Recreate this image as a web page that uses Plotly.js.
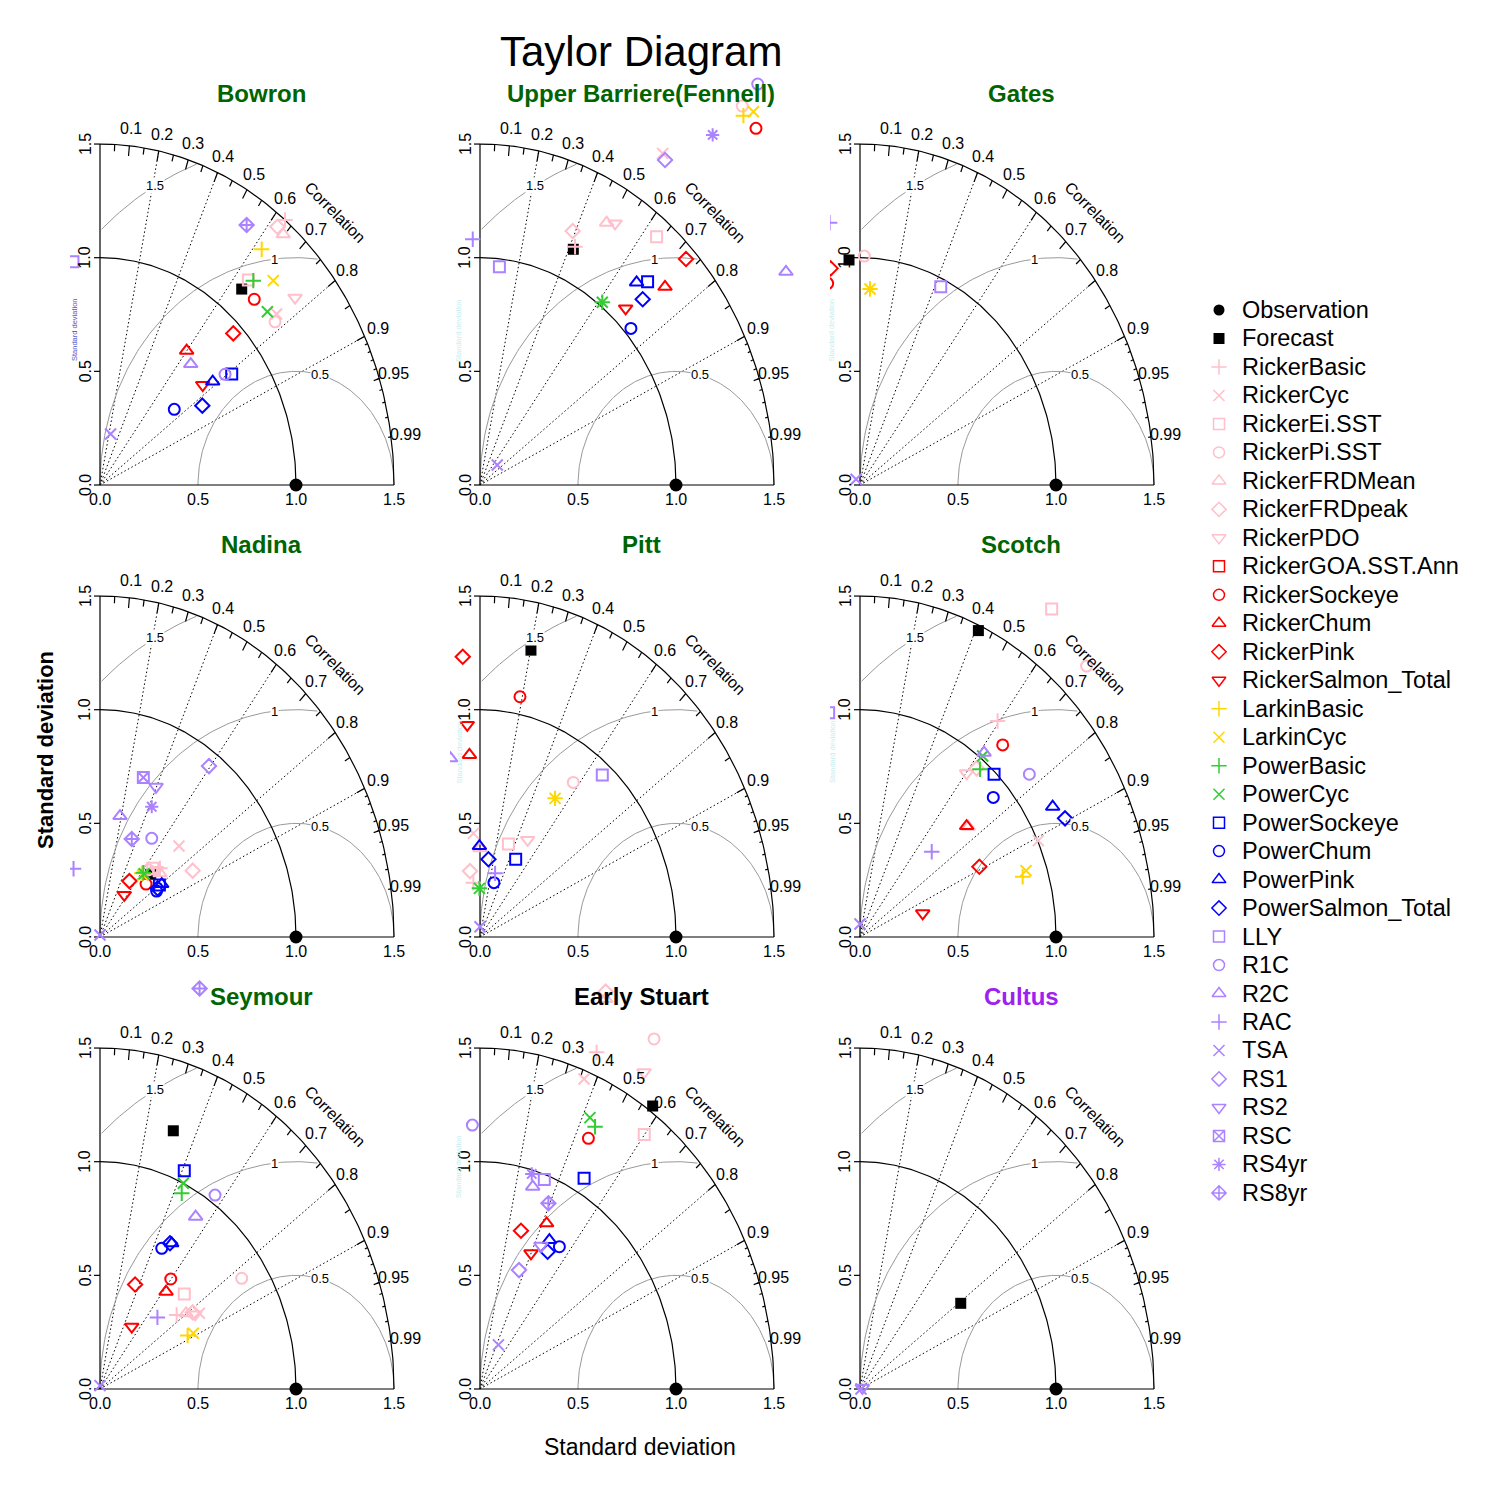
<!DOCTYPE html>
<html>
<head>
<meta charset="utf-8">
<script src="https://cdn.plot.ly/plotly-3.0.1.min.js"></script>
<style>body{margin:0;background:#fff}</style>
</head>
<body>
<div id="graph" style="width:1500px;height:1500px"></div>
<script>
// series shown in the legend, in legend order
var seriesNames = ['Observation','Forecast','RickerBasic','RickerCyc','RickerEi.SST','RickerPi.SST','RickerFRDMean','RickerFRDpeak','RickerPDO','RickerGOA.SST.Ann','RickerSockeye','RickerChum','RickerPink','RickerSalmon_Total','LarkinBasic','LarkinCyc','PowerBasic','PowerCyc','PowerSockeye','PowerChum','PowerPink','PowerSalmon_Total','LLY','R1C','R2C','RAC','TSA','RS1','RS2','RSC','RS4yr','RS8yr'];
var seriesColors = ['#000000','#000000','#FFC0CB','#FFC0CB','#FFC0CB','#FFC0CB','#FFC0CB','#FFC0CB','#FFC0CB','#FF0000','#FF0000','#FF0000','#FF0000','#FF0000','#FFD700','#FFD700','#32CD32','#32CD32','#0000FF','#0000FF','#0000FF','#0000FF','#AB82FF','#AB82FF','#AB82FF','#AB82FF','#AB82FF','#AB82FF','#AB82FF','#AB82FF','#AB82FF','#AB82FF'];
var seriesSymbols = ['circle','square','cross-thin-open','x-thin-open','square-open','circle-open','triangle-up-open','diamond-open','triangle-down-open','square-open','circle-open','triangle-up-open','diamond-open','triangle-down-open','cross-thin-open','x-thin-open','cross-thin-open','x-thin-open','square-open','circle-open','triangle-up-open','diamond-open','square-open','circle-open','triangle-up-open','cross-thin-open','x-thin-open','diamond-open','triangle-down-open','square-x-open','asterisk-open','diamond-cross-open'];

var panelNames = ['Bowron','Upper Barriere(Fennell)','Gates','Nadina','Pitt','Scotch','Seymour','Early Stuart','Cultus'];
var panelTitleColors = ['#006400','#006400','#006400','#006400','#006400','#006400','#006400','#000000','#A020F0'];

// point positions per stock: x = sd*cor, y = sd*sqrt(1-cor^2) (sd normalised), null = not drawn
var bowronX = [1.0,0.723,0.944,0.901,0.757,0.893,0.935,0.905,0.995,null,0.787,0.442,0.680,0.524,0.825,0.884,0.782,0.854,0.672,0.379,0.575,0.522,-0.138,0.638,0.463,null,0.054,null,null,null,null,0.748];
var bowronY = [0,0.862,1.166,0.752,0.902,0.718,1.103,1.136,0.824,null,0.817,0.591,0.667,0.440,1.037,0.899,0.899,0.762,0.488,0.333,0.455,0.349,0.982,0.487,0.532,null,0.224,null,null,null,null,1.144];

var upperBarriereX = [1.0,0.476,0.485,0.932,0.901,1.338,0.646,0.473,0.689,null,1.408,0.944,1.051,0.743,1.344,1.395,0.624,0.624,0.855,0.770,0.799,0.830,0.099,1.417,1.561,-0.037,0.088,0.944,null,null,1.187,null];
var upperBarriereY = [0,1.037,1.048,1.459,1.092,1.667,1.154,1.117,1.151,null,1.569,0.872,0.994,0.777,1.625,1.642,0.804,0.804,0.894,0.689,0.891,0.817,0.960,1.764,0.938,1.081,0.088,1.430,null,null,1.540,null];

var gatesX = [1.0,-0.056,null,null,null,0.022,null,null,null,null,-0.165,null,-0.150,null,0.051,0.051,null,null,null,null,null,null,0.412,null,null,-0.155,-0.020,null,null,null,null,null];
var gatesY = [0,0.990,null,null,null,1.007,null,null,null,null,0.887,null,0.953,null,0.862,0.862,null,null,null,null,null,null,0.872,null,null,1.154,0.025,null,null,null,null,null];

var nadinaX = [1.0,0.259,0.306,0.403,0.269,0.247,0.306,0.473,0.289,null,0.235,null,0.150,0.124,0.213,0.218,0.221,0.225,0.303,0.289,0.315,0.294,null,0.264,0.102,-0.135,0.0,0.556,0.286,0.221,0.264,0.162];
var nadinaY = [0,0.276,0.302,0.400,0.302,0.295,0.280,0.292,0.295,null,0.233,null,0.246,0.185,0.280,0.273,0.283,0.278,0.229,0.202,0.233,0.214,null,0.434,0.532,0.300,0.009,0.752,0.661,0.702,0.573,0.431];

var pittX = [1.0,0.260,-0.034,-0.034,0.145,0.476,0.0,-0.051,0.243,null,0.204,-0.054,-0.088,-0.065,0.383,0.383,-0.003,-0.003,0.182,0.071,-0.003,0.043,0.624,null,-0.150,0.077,0.0,null,null,null,null,null];
var pittY = [0,1.262,0.239,0.456,0.409,0.680,0.390,0.290,0.427,null,1.057,0.801,1.233,0.933,0.610,0.610,0.214,0.214,0.342,0.239,0.400,0.342,0.713,null,0.786,0.280,0.045,null,null,null,null,null];

var scotchX = [1.0,0.604,0.702,0.910,0.978,1.156,0.553,0.595,0.544,null,0.728,0.544,0.609,0.320,0.830,0.847,0.612,0.626,0.684,0.680,0.983,1.046,-0.160,0.864,0.633,0.366,0.0,null,null,null,null,null];
var scotchY = [0,1.348,0.950,0.424,1.443,1.192,0.485,0.742,0.720,null,0.845,0.488,0.309,0.104,0.265,0.292,0.738,0.796,0.716,0.614,0.573,0.522,0.987,0.716,0.811,0.375,0.057,null,null,null,null,null];

var seymourX = [1.0,0.374,0.391,0.507,0.430,0.723,0.439,0.473,0.485,null,0.361,0.337,0.179,0.162,0.447,0.476,0.417,0.425,0.430,0.315,0.366,0.357,null,0.587,0.488,0.293,0.0,null,null,null,null,0.508];
var seymourY = [0,1.136,0.326,0.333,0.418,0.487,0.333,0.337,0.328,null,0.484,0.428,0.460,0.274,0.235,0.245,0.861,0.905,0.960,0.619,0.641,0.641,null,0.853,0.758,0.315,0.015,null,null,null,null,1.762];

var earlyStuartX = [1.0,0.881,0.595,0.531,0.838,0.888,0.641,0.641,0.837,null,0.553,0.340,0.209,0.260,null,null,0.587,0.561,0.531,0.405,0.354,0.345,0.328,-0.039,0.269,null,0.094,0.199,0.311,null,0.264,0.349];
var earlyStuartY = [0,1.245,1.481,1.364,1.120,1.540,1.716,1.748,1.393,null,1.103,0.729,0.696,0.597,null,null,1.154,1.194,0.927,0.626,0.655,0.604,0.922,1.161,0.890,null,0.194,0.523,0.630,null,0.946,0.817];

var cultusX = [1.0,0.514,null,null,null,null,null,null,null,null,null,null,null,null,null,null,null,null,null,null,null,null,null,null,null,null,0.005,null,0.012,null,null,null];
var cultusY = [0,0.377,null,null,null,null,null,null,null,null,null,null,null,null,null,null,null,null,null,null,null,null,null,null,null,null,0.0,null,0.005,null,null,null];

var panelX = [bowronX, upperBarriereX, gatesX, nadinaX, pittX, scotchX, seymourX, earlyStuartX, cultusX];
var panelY = [bowronY, upperBarriereY, gatesY, nadinaY, pittY, scotchY, seymourY, earlyStuartY, cultusY];

// diagram furniture
var maxSd = 1.5, refSd = 1.0;
var sdTicks = [0, 0.5, 1.0, 1.5];
var corBig = [0.1,0.2,0.3,0.4,0.5,0.6,0.7,0.8,0.9];
var corMed = [0.05,0.15,0.25,0.35,0.45,0.55,0.65,0.75,0.85,0.95];
var corSmall = [0.91,0.92,0.93,0.94,0.95,0.96,0.97,0.98,0.99];
var corLabels = [0.1,0.2,0.3,0.4,0.5,0.6,0.7,0.8,0.9,0.95,0.99];
var corLines = [0.2,0.4,0.6,0.8,0.9];
var gammaRadii = [0.5, 1, 1.5];
var gammaLabelAngles = [1.32, 1.68, 2.07];

function drawTaylor() {
    var W = 1500;
    var colOrigin = [100, 480, 860];
    var rowOrigin = [485, 937, 1389];
    var UX = 196, UY = 227.3;
    var FONT = 'Liberation Sans, Arial, sans-serif';

    var traces = [];
    var annotations = [];
    var layout = {
        width: W, height: W,
        margin: {l: 0, r: 0, t: 0, b: 0},
        paper_bgcolor: '#fff', plot_bgcolor: 'rgba(0,0,0,0)',
        showlegend: false,
        font: {family: FONT, color: '#000'}
    };

    function px(v) { return v / W; }
    function py(v) { return 1 - v / W; }

    function symbolSize(sym) {
        if (sym === 'circle') return 13;
        if (sym === 'square') return 11;
        if (sym.indexOf('triangle') === 0) return 12;
        return 11;
    }

    for (var p = 0; p < 9; p++) {
        var col = p % 3, row = Math.floor(p / 3);
        var ox = colOrigin[col], oy = rowOrigin[row];
        var n = p + 1;
        var xr = n === 1 ? 'x' : 'x' + n;
        var yr = n === 1 ? 'y' : 'y' + n;
        var leftPx = ox - 30, rightPx = ox + 345, topPx = oy - 420, bottomPx = oy + 42;

        layout[n === 1 ? 'xaxis' : 'xaxis' + n] = {
            domain: [px(leftPx), px(rightPx)], range: [(leftPx - ox) / UX, (rightPx - ox) / UX],
            visible: false, fixedrange: true, anchor: yr
        };
        layout[n === 1 ? 'yaxis' : 'yaxis' + n] = {
            domain: [py(bottomPx), py(topPx)], range: [(oy - bottomPx) / UY, (oy - topPx) / UY],
            visible: false, fixedrange: true, anchor: xr
        };

        // dotted correlation rays
        var dx = [], dy = [];
        corLines.forEach(function(c) {
            dx.push(0, maxSd * c, null);
            dy.push(0, maxSd * Math.sqrt(1 - c * c), null);
        });
        traces.push({type: 'scatter', mode: 'lines', x: dx, y: dy, xaxis: xr, yaxis: yr, hoverinfo: 'skip',
            line: {color: '#000', width: 1, dash: '1.5px,2.5px'}});

        // gray centred-RMS arcs around the reference point
        var gx = [], gy = [];
        gammaRadii.forEach(function(r) {
            for (var i = 0; i <= 200; i++) {
                var t = Math.PI * i / 200;
                var ax = refSd + r * Math.cos(t), ay = r * Math.sin(t);
                if (ax >= 0 && ax * ax + ay * ay <= maxSd * maxSd + 1e-9) { gx.push(ax); gy.push(ay); }
                else { gx.push(null); gy.push(null); }
            }
            gx.push(null); gy.push(null);
        });
        traces.push({type: 'scatter', mode: 'lines', x: gx, y: gy, xaxis: xr, yaxis: yr, hoverinfo: 'skip',
            connectgaps: false, line: {color: '#999999', width: 1}});

        // black frame: axes, outer arc, reference arc, ticks
        var bx = [0, 0, null, 0, maxSd, null], by = [maxSd, 0, null, 0, 0, null];
        [maxSd, refSd].forEach(function(r) {
            for (var i = 0; i <= 120; i++) {
                var t = Math.PI / 2 * i / 120;
                bx.push(r * Math.cos(t)); by.push(r * Math.sin(t));
            }
            bx.push(null); by.push(null);
        });
        [[corBig, 0.97], [corMed, 0.98], [corSmall, 0.99]].forEach(function(set) {
            set[0].forEach(function(c) {
                var s = Math.sqrt(1 - c * c);
                bx.push(maxSd * c, maxSd * set[1] * c, null);
                by.push(maxSd * s, maxSd * set[1] * s, null);
            });
        });
        sdTicks.forEach(function(v) {
            bx.push(0, -6 / UX, null);
            by.push(v, v, null);
        });
        traces.push({type: 'scatter', mode: 'lines', x: bx, y: by, xaxis: xr, yaxis: yr, hoverinfo: 'skip',
            line: {color: '#000', width: 1.2}});

        // points
        var X = panelX[p], Y = panelY[p];
        for (var s = 0; s < seriesNames.length; s++) {
            if (X[s] === null || Y[s] === null) continue;
            var sym = seriesSymbols[s];
            var isOpen = sym.indexOf('-open') > 0;
            traces.push({type: 'scatter', mode: 'markers', name: seriesNames[s], x: [X[s]], y: [Y[s]],
                xaxis: xr, yaxis: yr, hoverinfo: 'skip',
                marker: {symbol: sym, size: symbolSize(sym), color: seriesColors[s],
                    line: {width: isOpen ? 2 : 0, color: seriesColors[s]}}});
        }

        // tick labels
        sdTicks.forEach(function(v) {
            annotations.push({xref: xr, yref: yr, x: v, y: 0, yshift: -14, text: v.toFixed(1), showarrow: false,
                font: {size: 16}, xanchor: 'center', yanchor: 'middle'});
            annotations.push({xref: xr, yref: yr, x: 0, y: v, xshift: -15, text: v.toFixed(1), showarrow: false,
                textangle: -90, font: {size: 16}, xanchor: 'center', yanchor: 'middle'});
        });
        corLabels.forEach(function(c) {
            annotations.push({xref: xr, yref: yr, x: 1.05 * maxSd * c, y: 1.05 * maxSd * Math.sqrt(1 - c * c),
                text: String(c), showarrow: false, font: {size: 16}, xanchor: 'center', yanchor: 'middle'});
        });
        annotations.push({xref: xr, yref: yr, x: 0.8 * maxSd, y: 0.8 * maxSd, text: 'Correlation', showarrow: false,
            textangle: 45, font: {size: 16}, xanchor: 'center', yanchor: 'middle'});
        gammaRadii.forEach(function(r, i) {
            var t = gammaLabelAngles[i];
            annotations.push({xref: xr, yref: yr, x: refSd + r * Math.cos(t), y: r * Math.sin(t), text: String(r),
                showarrow: false, font: {size: 13}, bgcolor: '#fff', borderpad: 0, xanchor: 'center', yanchor: 'middle'});
        });

        // stock title
        annotations.push({xref: 'paper', yref: 'paper', x: px(ox + 161), y: py(row * 452 + 93), text: '<b>' + panelNames[p] + '</b>',
            showarrow: false, font: {size: 24, color: panelTitleColors[p]}, xanchor: 'center', yanchor: 'middle'});
    }

    // tiny y labels left on some panels
    annotations.push({xref: 'paper', yref: 'paper', x: px(68), y: py(296), text: 'Standard deviation', textangle: -90,
        showarrow: false, font: {size: 7.5, color: '#5555cc'}});
    [[452, 297], [831, 297], [452, 752], [832, 752], [452, 1200]].forEach(function(pt) {
        annotations.push({xref: 'paper', yref: 'paper', x: px(pt[0]), y: py(pt[1]), text: 'Standard deviation', textangle: -90,
            showarrow: false, font: {size: 7.5, color: '#c8eeee'}});
    });

    // overall titles
    annotations.push({xref: 'paper', yref: 'paper', x: px(641), y: py(52), text: 'Taylor Diagram', showarrow: false,
        font: {size: 42}, xanchor: 'center', yanchor: 'middle'});
    annotations.push({xref: 'paper', yref: 'paper', x: px(640), y: py(1447), text: 'Standard deviation', showarrow: false,
        font: {size: 23}, xanchor: 'center', yanchor: 'middle'});
    annotations.push({xref: 'paper', yref: 'paper', x: px(45), y: py(750), text: '<b>Standard deviation</b>', textangle: -90,
        showarrow: false, font: {size: 22}, xanchor: 'center', yanchor: 'middle'});

    // legend drawn on its own axis (pixel units)
    layout.xaxis10 = {domain: [px(1200), px(1495)], range: [1200, 1495], visible: false, fixedrange: true, anchor: 'y10'};
    layout.yaxis10 = {domain: [py(1215), py(290)], range: [1215, 290], visible: false, fixedrange: true, anchor: 'x10'};
    var rowGap = 28.48;
    seriesNames.forEach(function(name, i) {
        var sym = seriesSymbols[i];
        var isOpen = sym.indexOf('-open') > 0;
        var yy = 310 + rowGap * i;
        traces.push({type: 'scatter', mode: 'markers', x: [1219], y: [yy], xaxis: 'x10', yaxis: 'y10', hoverinfo: 'skip',
            marker: {symbol: sym, size: sym === 'circle' ? 11 : symbolSize(sym), color: seriesColors[i],
                line: {width: isOpen ? 1.5 : 0, color: seriesColors[i]}}});
        annotations.push({xref: 'x10', yref: 'y10', x: 1240, y: yy, text: name, showarrow: false,
            font: {size: 23.5}, xanchor: 'left', yanchor: 'middle'});
    });

    layout.annotations = annotations;
    Plotly.newPlot('graph', traces, layout, {staticPlot: true});
}

drawTaylor();
</script>
</body>
</html>
